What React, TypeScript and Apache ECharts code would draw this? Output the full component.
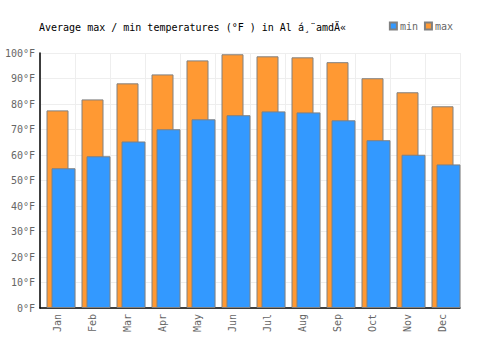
import React, { useEffect, useRef } from "react";
import * as echarts from "echarts";

const months = ["Jan", "Feb", "Mar", "Apr", "May", "Jun", "Jul", "Aug", "Sep", "Oct", "Nov", "Dec"];
const minTemps = [54.8, 59.5, 65.3, 70.1, 74.0, 75.6, 77.1, 76.7, 73.6, 65.8, 60.1, 56.3];
const maxTemps = [77.5, 81.8, 88.1, 91.6, 97.1, 99.5, 98.7, 98.3, 96.4, 90.1, 84.6, 79.1];
const spacer: (number | null)[] = [null, null, null, null, null, null, null, null, null, null, null, null];

const FONT = "DejaVu Sans Mono";

export default function App() {
  const ref = useRef<HTMLDivElement>(null);
  useEffect(() => {
    if (!ref.current) return;
    const chart = echarts.init(ref.current, undefined, { renderer: "svg" });
    chart.setOption({
      animation: false,
      textStyle: { fontFamily: FONT },
      title: {
        text: "Average max / min temperatures (°F ) in Al á¸¨amdÄ«",
        left: 34,
        top: 17,
        textStyle: { fontFamily: FONT, fontSize: 10, fontWeight: "normal", color: "#000" },
      },
      legend: {
        data: ["min", "max"],
        right: 42,
        top: 16,
        itemWidth: 7,
        itemHeight: 7,
        itemGap: 6,
        icon: "rect",
        textStyle: { fontFamily: FONT, fontSize: 10, color: "#666", padding: [0, 0, 0, -2] },
      },
      grid: { left: 40, right: 40, top: 53, bottom: 42 },
      xAxis: [
        {
          type: "category",
          data: months,
          axisLine: { show: true, lineStyle: { color: "#000", width: 1.5 } },
          axisTick: { show: false },
          splitLine: { show: true, lineStyle: { color: "#eeeeee", width: 1 } },
          axisLabel: { rotate: 90, color: "#666", fontFamily: FONT, fontSize: 10, margin: 6, interval: 0 },
        },
        { type: "category", data: months, show: false },
      ],
      yAxis: {
        type: "value",
        min: 0,
        max: 100,
        interval: 10,
        axisLine: { show: true, lineStyle: { color: "#000", width: 1.5 } },
        axisTick: { show: false },
        splitLine: { show: true, lineStyle: { color: "#eeeeee", width: 1 } },
        axisLabel: { formatter: "{value}°F", color: "#666", fontFamily: FONT, fontSize: 10, margin: 5 },
      },
      series: [
        {
          name: "max",
          type: "bar",
          xAxisIndex: 0,
          data: maxTemps,
          barWidth: 22,
          itemStyle: { color: "#ff9933", borderColor: "#808080", borderWidth: 1 },
        },
        {
          name: "spacer",
          type: "bar",
          xAxisIndex: 1,
          data: spacer,
          barWidth: 12,
          barGap: 0,
          silent: true,
          itemStyle: { color: "transparent" },
        },
        {
          name: "min",
          type: "bar",
          xAxisIndex: 1,
          data: minTemps,
          barWidth: 24,
          barGap: 0,
          itemStyle: { color: "#3399ff", borderColor: "#808080", borderWidth: 1 },
        },
      ],
    });
    return () => chart.dispose();
  }, []);
  return <div ref={ref} style={{ width: 500, height: 350, position: "absolute", left: 0, top: 0 }} />;
}
